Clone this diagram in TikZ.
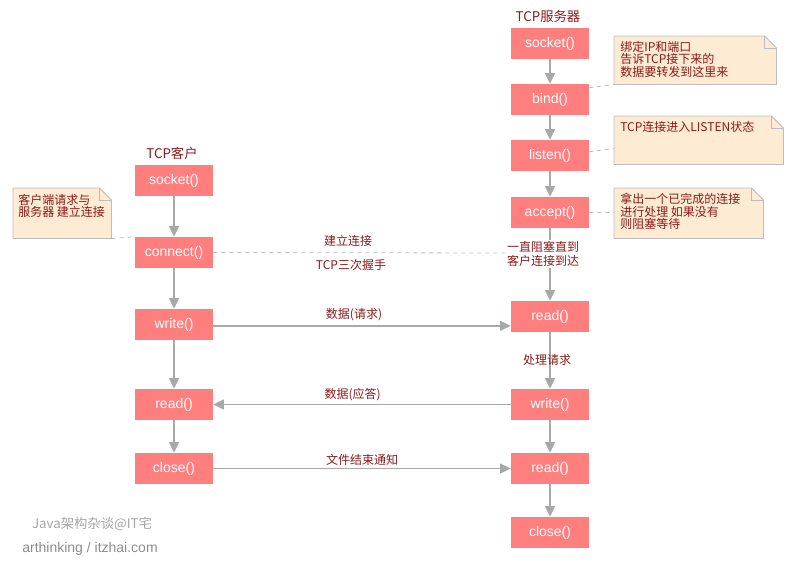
\documentclass[tikz,border=0pt]{standalone}
\usepackage{fontspec}
\setmainfont{Noto Sans CJK SC}
\newfontfamily\latinfont{Liberation Sans}
\usetikzlibrary{arrows.meta, positioning}

\definecolor{boxred}{HTML}{FF7F7F}
\definecolor{textred}{HTML}{8B1A1A}
\definecolor{notefill}{HTML}{FDEBD3}
\definecolor{noteline}{HTML}{BDBDBD}
\definecolor{flowgray}{HTML}{A8A8A8}

\tikzset{
  fnbox/.style={fill=boxred, minimum width=58.5pt, minimum height=23.25pt,
    inner sep=0pt, text=white, font=\latinfont\fontsize{10.5}{12}\selectfont},
  lbl/.style={text=textred, inner sep=1pt, font=\fontsize{9}{10}\selectfont, align=center},
  notetxt/.style={text=textred, inner sep=0pt, anchor=north west, align=left,
    font=\fontsize{9}{9.4}\selectfont},
  notebox/.style={anchor=north west, inner sep=0pt},
  notefrm/.style={draw=noteline, fill=notefill, line width=0.6pt},
  notelink/.style={draw=noteline, dashed, line width=0.6pt},
  flow/.style={draw=flowgray, line width=1.1pt, -{Triangle[length=8pt,width=7.5pt]}},
  msg/.style={draw=flowgray, line width=1pt, -{Triangle[length=8pt,width=7.5pt]}},
  wmark/.style={text=gray!70, font=\fontsize{10}{12}\selectfont}
}

\begin{document}
\begin{tikzpicture}[x=0.75pt, y=-0.75pt]
\useasboundingbox (0,0) rectangle (800,562);

% column titles
\node[lbl, font=\fontsize{10}{12}\selectfont] (tserver) at (548,16) {TCP服务器};
\node[lbl, font=\fontsize{10}{12}\selectfont] (tclient) at (172,153) {TCP客户};

% client calls
\node[fnbox] (csocket) at (174,180.5) {socket()};
\node[fnbox] (cconnect) at (174,252.5) {connect()};
\node[fnbox] (cwrite) at (174,324.5) {write()};
\node[fnbox] (cread) at (174,404.5) {read()};
\node[fnbox] (cclose) at (174,468.5) {close()};

% server calls
\node[fnbox] (ssocket) at (550,43.5) {socket()};
\node[fnbox] (sbind) at (550,99.5) {bind()};
\node[fnbox] (slisten) at (550,155.5) {listen()};
\node[fnbox] (saccept) at (550,212.5) {accept()};
\node[fnbox] (sread) at (550,316.5) {read()};
\node[fnbox] (swrite) at (550,404.5) {write()};
\node[fnbox] (sreadb) at (550,468.5) {read()};
\node[fnbox] (sclose) at (550,532.5) {close()};

% notes (frames)
\node[notebox, minimum width=121.5pt, minimum height=36pt] (nbind) at (614,36) {};
\node[notebox, minimum width=126.75pt, minimum height=36pt] (nlisten) at (614,116) {};
\node[notebox, minimum width=111.75pt, minimum height=37.5pt] (naccept) at (614,188) {};
\node[notebox, minimum width=73.5pt, minimum height=37.5pt] (nconnect) at (13,188) {};
\foreach \n in {nbind, nlisten, naccept, nconnect} {
  \draw[notefrm] (\n.south west) -- (\n.north west) -- ([xshift=-9pt]\n.north east)
    -- ([yshift=-9pt]\n.north east) -- (\n.south east) -- cycle;
  \draw[notefrm, fill=none] ([xshift=-9pt]\n.north east) -- ([xshift=-9pt,yshift=-9pt]\n.north east)
    -- ([yshift=-9pt]\n.north east);
}

% note texts
\node[notetxt] (tbind) at (620,41) {绑定IP和端口\\告诉TCP接下来的\\数据要转发到这里来};
\node[notetxt] (tlisten) at (620,121) {TCP连接进入LISTEN状态};
\node[notetxt] (taccept) at (620,193) {拿出一个已完成的连接\\进行处理 如果没有\\则阻塞等待};
\node[notetxt] (tconnect) at (18,194) {客户端请求与\\服务器 建立连接};

% note links
\draw[notelink] ([yshift=-3pt]sbind.north east) -- (nbind.south west);
\draw[notelink] ([yshift=-9pt]slisten.north east) -- ([yshift=12pt]nlisten.south west);
\draw[notelink] (saccept.east) -- ([yshift=19.5pt]naccept.south west);
\draw[notelink] (nconnect.south east) -- (cconnect.north west);

% client flow
\draw[flow] (csocket) -- (cconnect);
\draw[flow] (cconnect) -- (cwrite);
\draw[flow] (cwrite) -- (cread);
\draw[flow] (cread) -- (cclose);

% server flow
\draw[flow] (ssocket) -- (sbind);
\draw[flow] (sbind) -- (slisten);
\draw[flow] (slisten) -- (saccept);
\draw[flow] (saccept) -- (sread);
\draw[flow] (sread) -- (swrite);
\draw[flow] (swrite) -- (sreadb);
\draw[flow] (sreadb) -- (sclose);

% handshake
\coordinate (hsend) at (505,253);
\draw[notelink] (cconnect.east) -- (hsend);
\node[lbl, fill=white] (block) at (543,254) {一直阻塞直到\\客户连接到达};
\node[lbl] (lhand) at (348,241) {建立连接};
\node[lbl] (lthree) at (351,265) {TCP三次握手};

% messages
\draw[msg] ([yshift=-1pt]cwrite.east) -- ([yshift=-1pt]cwrite.east -| sread.west)
  node[lbl, midway, above=2pt, xshift=-6pt] (lreq) {数据(请求)};
\draw[msg] (swrite) -- (cread) node[lbl, midway, above=1pt, xshift=-7pt] (lresp) {数据(应答)};
\draw[msg] (cclose) -- (sreadb) node[lbl, midway, above=1pt] (leof) {文件结束通知};
\node[lbl] (lproc) at (547,360) {处理请求};

% watermark
\node[wmark] (wm1) at (92,524) {Java架构杂谈@IT宅};
\node[wmark, text=gray!90, font=\latinfont\fontsize{10.5}{12}\selectfont] (wm2) at (90,549) {arthinking / itzhai.com};

\end{tikzpicture}
\end{document}
